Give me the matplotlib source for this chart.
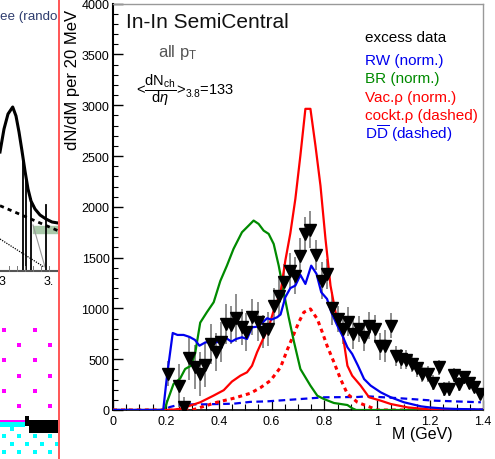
import matplotlib
matplotlib.use("Agg")
import matplotlib.pyplot as plt
from matplotlib.ticker import MultipleLocator

plt.rcParams['font.family'] = ['Liberation Sans', 'DejaVu Sans']
plt.rcParams['mathtext.fontset'] = 'custom'
plt.rcParams['mathtext.rm'] = 'Liberation Sans'
plt.rcParams['mathtext.it'] = 'Liberation Sans:italic'
plt.rcParams['mathtext.sf'] = 'Liberation Sans'

W, H = 495, 460

# ---- excess data (triangles), M in GeV, dN/dM per 20 MeV
m_data = [0.207, 0.250, 0.268, 0.286, 0.311, 0.328, 0.349, 0.371, 0.391, 0.408,
          0.429, 0.448, 0.467, 0.488, 0.505, 0.526, 0.547, 0.568, 0.587, 0.608,
          0.627, 0.647, 0.669, 0.687, 0.707, 0.726, 0.747, 0.769, 0.790, 0.808,
          0.827, 0.851, 0.870, 0.890, 0.909, 0.931, 0.950, 0.969, 0.990, 1.009,
          1.029, 1.051, 1.070, 1.089, 1.110, 1.131, 1.152, 1.171, 1.190, 1.211,
          1.234, 1.253, 1.270, 1.289, 1.308, 1.329, 1.348, 1.367, 1.388]
y_data = [355, 240, 30, 512, 423, 355, 443, 650, 571, 670,
          847, 837, 906, 818, 768, 916, 870, 771, 798, 1027,
          1126, 1258, 1372, 1323, 1520, 1734, 1776, 1527, 1274, 1340,
          1002, 896, 798, 870, 749, 798, 722, 830, 798, 627,
          627, 830, 529, 502, 496, 453, 411, 355, 355, 266,
          420, 207, 207, 345, 256, 322, 266, 224, 158]
y_err = [123, 208, 100, 213, 221, 213, 221, 197, 189, 197,
         197, 189, 238, 180, 189, 180, 189, 164, 164, 172,
         189, 180, 172, 180, 172, 164, 180, 148, 180, 148,
         164, 131, 148, 140, 148, 131, 140, 131, 140, 131,
         156, 123, 98, 98, 90, 82, 82, 82, 82, 74,
         74, 66, 74, 66, 66, 66, 57, 49, 49]

# ---- RW (norm.) blue solid
m_rw = [0, 0.19, 0.205, 0.226, 0.244, 0.267, 0.29, 0.31, 0.327, 0.349, 0.371, 0.39,
        0.41, 0.429, 0.448, 0.467, 0.488, 0.507, 0.526, 0.545, 0.564, 0.583, 0.60,
        0.621, 0.634, 0.652, 0.671, 0.69, 0.709, 0.728, 0.75, 0.77, 0.788, 0.81,
        0.826, 0.849, 0.868, 0.887, 0.905, 0.927, 0.95, 0.975, 1.013, 1.051, 1.101,
        1.165, 1.2, 1.25, 1.3, 1.4]
y_rw = [0, 0, 350, 758, 739, 739, 719, 690, 633, 665, 673, 667,
        673, 706, 673, 700, 716, 699, 814, 820, 857, 903, 890,
        913, 940, 1110, 1200, 1225, 1330, 1241, 1421, 1340, 1159, 1093,
        962, 830, 732, 617, 552, 436, 305, 240, 174, 125, 76,
        36, 25, 15, 10, 5]

# ---- BR (norm.) green solid
m_br = [0, 0.195, 0.204, 0.229, 0.254, 0.273, 0.295, 0.311, 0.33, 0.355, 0.381,
        0.406, 0.431, 0.456, 0.488, 0.513, 0.532, 0.551, 0.57, 0.589, 0.608, 0.627,
        0.646, 0.665, 0.684, 0.709, 0.728, 0.747, 0.773, 0.798, 0.836, 0.887, 0.905,
        0.92, 1.4]
y_br = [0, 0, 76, 256, 310, 404, 436, 560, 860, 962, 1061,
        1270, 1421, 1586, 1750, 1815, 1865, 1832, 1766, 1734, 1635, 1421,
        1159, 910, 680, 404, 322, 240, 141, 108, 69, 49, 17,
        0, 0]

# ---- Vac.rho (norm.) red solid
m_vac = [0, 0.22, 0.26, 0.33, 0.38, 0.419, 0.45, 0.482, 0.507, 0.526, 0.545, 0.568,
         0.589, 0.608, 0.634, 0.652, 0.671, 0.69, 0.709, 0.728, 0.747, 0.766, 0.785,
         0.804, 0.823, 0.842, 0.868, 0.887, 0.905, 0.937, 0.969, 1.013, 1.051, 1.114,
         1.2, 1.4]
y_vac = [0, 0, 15, 76, 141, 195, 280, 338, 371, 436, 568, 700,
         814, 980, 1159, 1470, 1740, 2078, 2505, 2965, 2965, 2603, 2209,
         1684, 1224, 962, 765, 436, 338, 240, 125, 92, 59, 26,
         5, 0]

# ---- cockt.rho (dashed) red
m_ck = [0, 0.3, 0.393, 0.456, 0.52, 0.558, 0.596, 0.634, 0.659, 0.684, 0.703, 0.722,
        0.747, 0.773, 0.792, 0.81, 0.836, 0.861, 0.887, 0.925, 0.975, 1.0, 1.4]
y_ck = [0, 0, 76, 115, 165, 220, 290, 420, 590, 745, 864, 962,
        995, 896, 765, 633, 470, 305, 158, 76, 26, 0, 0]

# ---- DDbar (dashed) blue
m_dd = [0, 0.19, 0.216, 0.254, 0.33, 0.456, 0.52, 0.583, 0.709, 0.80, 0.925,
        0.962, 1.089, 1.215, 1.392]
y_dd = [0, 0, 30, 55, 55, 62, 80, 85, 108, 125, 128, 135, 115, 92, 76]

legend_lines = ["excess data", "RW (norm.)", "BR (norm.)", "Vac.\u03c1 (norm.)",
                "cockt.\u03c1 (dashed)", r"D$\overline{\mathrm{D}}$ (dashed)"]
legend_colors = ["black", "#0000ee", "#008a00", "#ff0000", "#ff0000", "#0000ee"]
legend_base_px = [41.5, 64.5, 83.5, 102, 120, 138.5]

# ---- neighbouring panel fragment (pixel coords, left strip)
peak_x = [0, 4, 8, 12.7, 16, 19, 22, 25, 28, 31, 35, 40, 46, 52, 58]
peak_y = [153, 130, 115, 108, 117, 133, 152, 172, 190, 202, 210, 216, 220, 223, 224]
mag_x = [4, 35, 19.3, 50]
mag_rows = [331, 346, 361, 377, 392, 407]
cy_cols_a = [4, 19.3, 35, 50]
cy_cols_b = [11.7, 26.7, 41.7, 56.7]
cy_rows = [437, 445, 453.3]

fig = plt.figure(figsize=(W / 100, H / 100), dpi=100)

# left strip
ax0 = fig.add_axes([0, 0, 58 / W, 1])
ax0.set_xlim(0, 58); ax0.set_ylim(H, 0); ax0.axis("off")
ax0.text(0, 17, "ee (rando", color="#2e3c6e", fontsize=9.6, va="center", ha="left", clip_on=True)
ax0.plot(peak_x, peak_y, color="black", lw=2.2)
ax0.plot([0, 58], [206.7, 231.7], color="black", lw=2, ls=(0, (1.5, 1.5)))
ax0.plot([0, 44], [240, 268], color="black", lw=0.9, ls=(0, (1, 1)))
ax0.plot([33, 45], [226, 268], color="#999999", lw=0.8)
ax0.fill_between([33.3, 58], 226.7, 234, color="#a9c9a9")
for bx, by in zip([23.3, 26.3, 30.5, 46], [160, 182, 200, 206]):
    ax0.plot([bx, bx], [by, 271], color="black", lw=1.3)
ax0.plot([0, 58], [271.5, 271.5], color="#555555", lw=1.5)
for tx in [9, 17, 25, 33, 41, 49]:
    ax0.plot([tx, tx], [271.5, 267], color="#777777", lw=0.7)
ax0.text(2, 282, "3", fontsize=9, ha="center", va="center")
ax0.text(49, 282, "3.", fontsize=9, ha="center", va="center")
for i, ry in enumerate(mag_rows):
    xs = mag_x[:2] if i % 2 == 0 else mag_x[2:]
    ax0.scatter(xs, [ry] * 2, marker="s", s=9, color="#ff00ff", lw=0)
ax0.fill_between([0, 25], 420.7, 423.3, color="#ff00ff", lw=0)
ax0.fill_between([0, 25], 423.3, 427.7, color="#00ffff", lw=0)
ax0.scatter([11.7], [430], marker="s", s=9, color="#00ffff", lw=0)
ax0.fill_between([25, 29], 416.7, 421, color="black", lw=0)
ax0.fill_between([25, 58], 420.7, 427, color="black", lw=0)
ax0.fill_between([29, 58], 427, 434, color="black", lw=0)
for i, ry in enumerate(cy_rows):
    xs = cy_cols_a if i % 2 == 0 else cy_cols_b
    ax0.scatter(xs, [ry] * len(xs), marker="s", s=9, color="#00ffff", lw=0)
fig.add_artist(plt.Line2D([58.5 / W, 58.5 / W], [0, 1], color="#ff5555", lw=1.4))

# main panel
ax = fig.add_axes([113 / W, 49 / H, 370 / W, 406.3 / H])
ax.errorbar(m_data, y_data, yerr=y_err, fmt="none", ecolor="#7a7a7a", elinewidth=1.2, zorder=2)
ax.plot(m_dd, y_dd, color="#0000ee", lw=1.6, ls=(0, (3, 2)), zorder=3)
ax.plot(m_ck, y_ck, color="#ff0000", lw=2.2, ls=(0, (1.3, 1.3)), zorder=3)
ax.plot(m_br, y_br, color="#008a00", lw=1.6, zorder=4)
ax.plot(m_vac, y_vac, color="#ff0000", lw=1.6, zorder=4)
ax.plot(m_rw, y_rw, color="#0000ee", lw=1.6, zorder=4)
ax.plot(m_data, y_data, ls="none", marker="v", ms=8.5, color="black", zorder=5)

ax.set_xlim(0, 1.4); ax.set_ylim(0, 4000)
ax.xaxis.set_major_locator(MultipleLocator(0.2))
ax.xaxis.set_minor_locator(MultipleLocator(0.05))
ax.yaxis.set_major_locator(MultipleLocator(500))
ax.yaxis.set_minor_locator(MultipleLocator(100))
ax.set_xticks([0, 0.2, 0.4, 0.6, 0.8, 1.0, 1.2, 1.4])
ax.set_xticklabels(["0", "0.2", "0.4", "0.6", "0.8", "1", "1.2", "1.4"])
ax.tick_params(which="both", direction="in", top=False, right=False, labelsize=9)
ax.tick_params(axis="y", which="major", length=7, width=1, pad=2.5)
ax.tick_params(axis="y", which="minor", length=3.8, width=0.8)
ax.tick_params(axis="x", which="major", length=7, width=0.9, pad=3.5)
ax.tick_params(axis="x", which="minor", length=4.5, width=0.8)
for s in ["top", "right"]:
    ax.spines[s].set_color("#999999"); ax.spines[s].set_linewidth(1)
ax.spines["left"].set_linewidth(1.5)
ax.spines["bottom"].set_linewidth(1.2)

def fx(px): return px / W
def fy(py): return 1 - py / H

fig.text(fx(73), fy(10), "dN/dM per 20 MeV", rotation=90, ha="center", va="top", fontsize=12)
fig.text(fx(453), fy(439), "M (GeV)", ha="right", va="baseline", fontsize=11.5)
fig.text(fx(126), fy(28.3), "In-In SemiCentral", ha="left", va="baseline", fontsize=15, color="#111111")
fig.text(fx(158), fy(57), r"all p$_\mathrm{T}$", ha="left", va="baseline", fontsize=12, color="#555555")
fig.text(fx(136), fy(94.5), r"<$\dfrac{\mathrm{dN}_{\mathrm{ch}}}{\mathrm{d}\eta}$>$_{3.8}$=133",
         ha="left", va="baseline", fontsize=10.5)
for txt, c, b in zip(legend_lines, legend_colors, legend_base_px):
    fig.text(fx(365), fy(b), txt, color=c, ha="left", va="baseline", fontsize=11)

fig.savefig("out.png", dpi=100)
